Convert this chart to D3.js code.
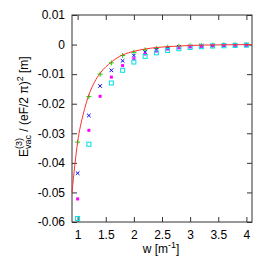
<!DOCTYPE html>
<title>Vacuum energy vs w</title>
<meta charset="utf-8">
<style>
  body { margin: 0; background: #fff; }
  text { font-family: "Liberation Sans", Arial, sans-serif; fill: #000; }
  .axis text { font-size: 12px; }
  .axis path { display: none; }
  .axis line { stroke: #333; }
  .frame { fill: none; stroke: #333; stroke-width: 1; }
  .curve { fill: none; stroke: #ff3030; stroke-width: 1; }
</style>
<body>
<script src="https://d3js.org/d3.v7.min.js"></script>
<div id="chart"></div>
<script>

// values
var wValues = [1.0, 1.2, 1.4, 1.6, 1.8, 2.0, 2.2, 2.4, 2.6, 2.8, 3.0, 3.2, 3.4, 3.6, 3.8, 4.0];

var greenE   = [-0.0330, -0.0176, -0.0100, -0.0062, -0.0037, -0.0026, -0.0018, -0.0013,
                -0.0009, -0.0006, -0.0004, -0.0003, -0.0002, -0.0001, -0.0001, -0.0001];
var blueE    = [-0.0435, -0.0240, -0.0140, -0.0087, -0.0055, -0.0037, -0.0026, -0.0018,
                -0.0012, -0.0008, -0.0006, -0.0004, -0.0003, -0.0002, -0.0001, -0.0001];
var magentaE = [-0.0522, -0.0290, -0.0175, -0.0110, -0.0071, -0.0048, -0.0032, -0.0022,
                -0.0015, -0.0011, -0.0008, -0.0006, -0.0004, -0.0003, -0.0002, -0.0002];
var cyanE    = [-0.0588, -0.0337, null, -0.0130, -0.0087, -0.0059, -0.0040, -0.0028,
                -0.0020, -0.0014, -0.0010, -0.0007, -0.0005, -0.0004, -0.0003, -0.0002];

// red curve, read at a few places
var curveW = [0.9, 0.95, 1.0, 1.1, 1.2, 1.3, 1.4, 1.6, 1.8, 2.0, 2.2, 2.4, 2.6, 2.8, 3.0, 3.5, 4.1];
var curveE = [-0.050, -0.0408, -0.0330, -0.0235, -0.0170, -0.0127, -0.0097, -0.0059, -0.0035,
              -0.0023, -0.0015, -0.0010, -0.0007, -0.0005, -0.0003, -0.0001, 0.0];

var xTicks = [1, 1.5, 2, 2.5, 3, 3.5, 4];
var xTickLabels = ["1", "1.5", "2", "2.5", "3", "3.5", "4"];
var yTicks = [0.01, 0, -0.01, -0.02, -0.03, -0.04, -0.05, -0.06];
var yTickLabels = ["0.01", "0", "-0.01", "-0.02", "-0.03", "-0.04", "-0.05", "-0.06"];

var margin = {top: 15, right: 21, bottom: 38, left: 72},
    width = 273 - margin.left - margin.right,
    height = 260 - margin.top - margin.bottom;

var svg = d3.select("#chart")
  .append("svg")
    .attr("width", 273)
    .attr("height", 260);

var g = svg.append("g")
    .attr("transform", "translate(" + margin.left + "," + margin.top + ")");

var x = d3.scaleLinear().domain([0.9, 4.1]).range([0, width]);
var y = d3.scaleLinear().domain([-0.06, 0.01]).range([height, 0]);

// axes, ticks pointing inwards, mirrored on top and right
g.append("g")
    .attr("class", "axis")
    .attr("transform", "translate(0," + height + ")")
    .call(d3.axisBottom(x).tickValues(xTicks).tickSizeInner(-5).tickSizeOuter(0).tickPadding(8)
      .tickFormat(function(d, i) { return xTickLabels[i]; }));

g.append("g")
    .attr("class", "axis")
    .call(d3.axisTop(x).tickValues(xTicks).tickSizeInner(-5).tickSizeOuter(0).tickFormat(""));

g.append("g")
    .attr("class", "axis")
    .call(d3.axisLeft(y).tickValues(yTicks).tickSizeInner(-5).tickSizeOuter(0).tickPadding(7)
      .tickFormat(function(d, i) { return yTickLabels[i]; }));

g.append("g")
    .attr("class", "axis")
    .attr("transform", "translate(" + width + ",0)")
    .call(d3.axisRight(y).tickValues(yTicks).tickSizeInner(-5).tickSizeOuter(0).tickFormat(""));

g.append("rect")
    .attr("class", "frame")
    .attr("x", 0).attr("y", 0)
    .attr("width", width).attr("height", height);

function pts(vals) {
  return wValues.map(function(w, i) { return {w: w, e: vals[i]}; })
    .filter(function(d) { return d.e !== null; });
}

// green plus
g.selectAll(".plus")
  .data(pts(greenE)).enter().append("path")
    .attr("class", "plus")
    .attr("d", function(d) {
      var cx = x(d.w), cy = y(d.e), s = 2.5;
      return "M" + (cx - s) + "," + cy + "H" + (cx + s) + "M" + cx + "," + (cy - s) + "V" + (cy + s);
    })
    .attr("stroke", "#00dd00").attr("stroke-width", 1).attr("fill", "none");

// blue cross
g.selectAll(".cross")
  .data(pts(blueE)).enter().append("path")
    .attr("class", "cross")
    .attr("d", function(d) {
      var cx = x(d.w), cy = y(d.e), s = 1.8;
      return "M" + (cx - s) + "," + (cy - s) + "L" + (cx + s) + "," + (cy + s) +
             "M" + (cx - s) + "," + (cy + s) + "L" + (cx + s) + "," + (cy - s);
    })
    .attr("stroke", "#0000ff").attr("stroke-width", 1).attr("fill", "none");

// magenta filled square
g.selectAll(".fsq")
  .data(pts(magentaE)).enter().append("rect")
    .attr("class", "fsq")
    .attr("x", function(d) { return x(d.w) - 1.5; })
    .attr("y", function(d) { return y(d.e) - 1.5; })
    .attr("width", 3).attr("height", 3)
    .attr("fill", "#ff00ff");

// cyan open square
g.selectAll(".osq")
  .data(pts(cyanE)).enter().append("rect")
    .attr("class", "osq")
    .attr("x", function(d) { return x(d.w) - 2; })
    .attr("y", function(d) { return y(d.e) - 2; })
    .attr("width", 4).attr("height", 4)
    .attr("fill", "none").attr("stroke", "#00e0e0").attr("stroke-width", 1);

// red curve
g.append("path")
  .datum(curveW.map(function(w, i) { return [w, curveE[i]]; }))
    .attr("class", "curve")
    .attr("d", d3.line()
      .x(function(d) { return x(d[0]); })
      .y(function(d) { return y(d[1]); })
      .curve(d3.curveMonotoneX));

// x label
var xl = svg.append("text")
    .attr("x", 161).attr("y", 253)
    .attr("text-anchor", "middle")
    .style("font-size", "12px");
xl.append("tspan").text("w [m");
xl.append("tspan").attr("dy", -5).style("font-size", "9px").text("-1");
xl.append("tspan").attr("dy", 5).text("]");

// y label with stacked sub/superscript
function textWidth(str, size) {
  var t = svg.append("text").style("font-size", size + "px").text(str);
  var w = t.node().getComputedTextLength();
  t.remove();
  return w;
}
var wSub = textWidth("vac", 9), wSup = textWidth("(3)", 9);

var yl = svg.append("text")
    .attr("transform", "translate(28,157) rotate(-90)")
    .style("font-size", "12px");
yl.append("tspan").text("E");
yl.append("tspan").attr("dy", 3).style("font-size", "9px").text("vac");
yl.append("tspan").attr("dx", -wSub).attr("dy", -9).style("font-size", "9px").text("(3)");
yl.append("tspan").attr("dx", Math.max(wSub - wSup, 0)).attr("dy", 6).text(" / (eF/2 \u03c0)");
yl.append("tspan").attr("dy", -5).style("font-size", "9px").text("2");
yl.append("tspan").attr("dy", 5).text(" [m]");

</script>
</body>
